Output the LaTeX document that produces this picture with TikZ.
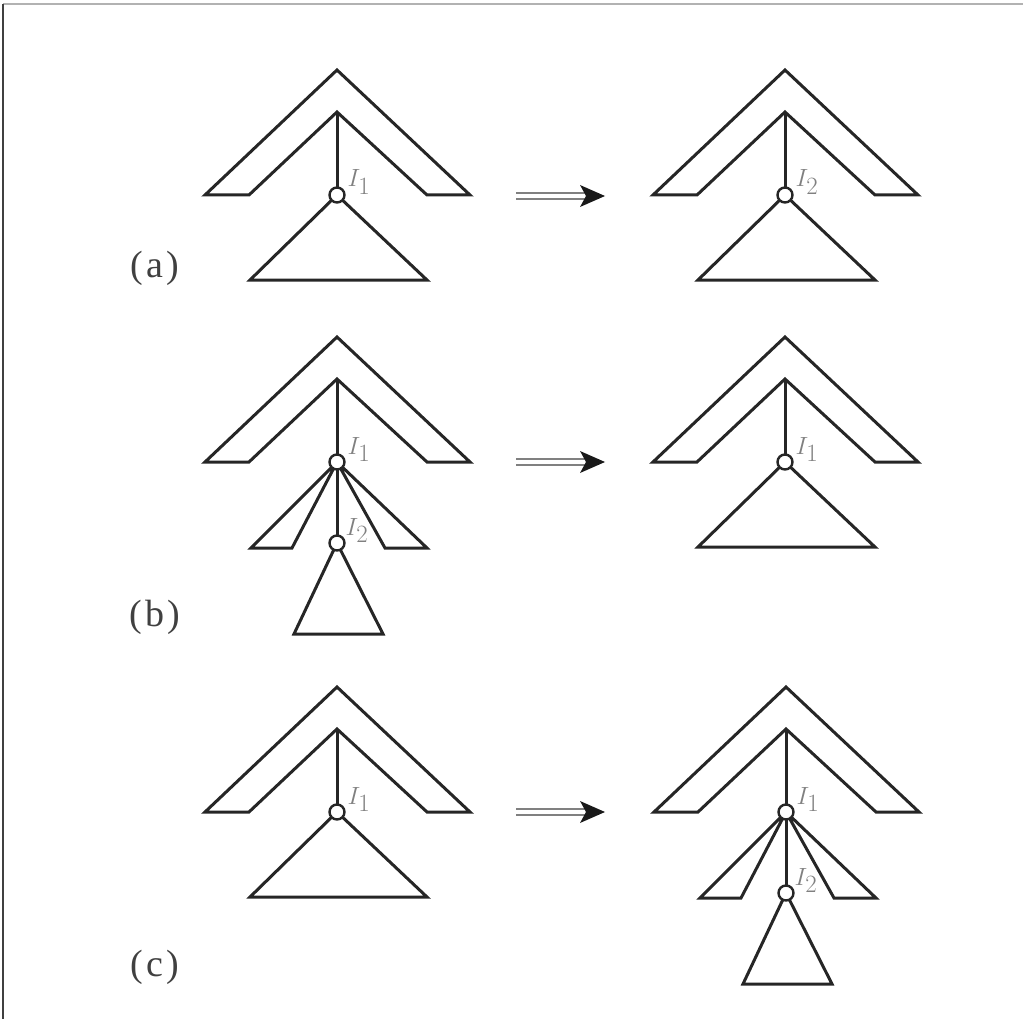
\documentclass[tikz,border=0pt]{standalone}
\usepackage{fontspec}
\setmainfont{Liberation Serif}
\newcommand\chevpart[1]{%
  \begin{scope}[shift={(#1)}]
    \draw[ln] (-132,0) -- (0,-125) -- (133,0) -- (90,0) -- (0,-83) -- (-88,0) -- cycle;
    \draw[ln] (0,-83) -- (0,0);
  \end{scope}}
\newcommand\bigtri[1]{%
  \begin{scope}[shift={(#1)}]
    \draw[ln] (0,0) -- (-87,85) -- (90,85) -- (0,0);
  \end{scope}}
\newcommand\fanpart[1]{%
  \begin{scope}[shift={(#1)}]
    \draw[ln] (0,0) -- (-86,86) -- (-45,86) -- (0,0);
    \draw[ln] (0,0) -- (48,86) -- (90,86) -- (0,0);
    \draw[ln] (0,0) -- (0,81);
    \draw[ln] (0,81) -- (-43,172) -- (46,172) -- (0,81);
  \end{scope}}
\newcommand\capt[1]{(\kern3pt#1\kern3pt)}
\begin{document}
\begin{tikzpicture}[x=1pt,y=-1pt,
  ln/.style={draw=black!85, line width=3pt, line join=miter},
  junc/.style={circle, draw=black!85, fill=white, line width=2.4pt, minimum size=15pt, inner sep=0pt},
  lab/.style={text=black!50, font=\fontsize{36}{36}\selectfont},
  captext/.style={font=\fontsize{38}{38}\selectfont, text=black!75},
  shaft/.style={draw=black!50, line width=2pt},
  headfill/.style={fill=black!90}]
\useasboundingbox (0,0) rectangle (1023,1019);
\draw[black!30, line width=1.2pt] (3,4) -- (1023,4);
\draw[black!75, line width=1.2pt] (3,4) -- (3,1019);

% (a)
\chevpart{337,195}
\bigtri{337,195}
\chevpart{785,195}
\bigtri{785,195}
\node[junc] (aL1) at (337,195) {};
\node[junc] (aR1) at (785,195) {};
\node[lab, anchor=base west] (aLl1) at ([shift={(7,-8)}]aL1.center) {$I_1$};
\node[lab, anchor=base west] (aRl1) at ([shift={(7,-8)}]aR1.center) {$I_2$};
\node[captext] (capa) at (155,268) {\capt{a}};
\coordinate (aS) at (516,196);
\coordinate (aE) at (605,196);

% (b)
\chevpart{337,462}
\fanpart{337,462}
\chevpart{785,462}
\bigtri{785,462}
\node[junc] (bL1) at (337,462) {};
\node[junc] (bL2) at (337,543) {};
\node[junc] (bR1) at (785,462) {};
\node[lab, anchor=base west] (bLl1) at ([shift={(7,-8)}]bL1.center) {$I_1$};
\node[lab, anchor=base west] (bLl2) at ([shift={(5,-8)}]bL2.center) {$I_2$};
\node[lab, anchor=base west] (bRl1) at ([shift={(7,-8)}]bR1.center) {$I_1$};
\node[captext] (capb) at (155,617) {\capt{b}};
\coordinate (bS) at (516,462);
\coordinate (bE) at (605,462);

% (c)
\chevpart{337,812}
\bigtri{337,812}
\chevpart{786,812}
\fanpart{786,812}
\node[junc] (cL1) at (337,812) {};
\node[junc] (cR1) at (786,812) {};
\node[junc] (cR2) at (786,893) {};
\node[lab, anchor=base west] (cLl1) at ([shift={(7,-8)}]cL1.center) {$I_1$};
\node[lab, anchor=base west] (cRl1) at ([shift={(7,-8)}]cR1.center) {$I_1$};
\node[lab, anchor=base west] (cRl2) at ([shift={(5,-8)}]cR2.center) {$I_2$};
\node[captext] (capc) at (155,967) {\capt{c}};
\coordinate (cS) at (516,812);
\coordinate (cE) at (605,812);

% arrows
\foreach \s/\e in {aS/aE, bS/bE, cS/cE}{
  \draw[shaft] ([yshift=3pt]\s) -- ([shift={(-20,0)}, yshift=3pt]\e);
  \draw[shaft] ([yshift=-3pt]\s) -- ([shift={(-20,0)}, yshift=-3pt]\e);
  \fill[headfill] (\e) -- ([shift={(-25,-11)}]\e) -- ([shift={(-19,0)}]\e) -- ([shift={(-25,11)}]\e) -- cycle;
}
\end{tikzpicture}
\end{document}
